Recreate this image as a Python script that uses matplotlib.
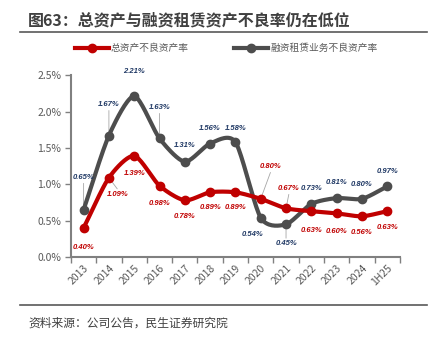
import numpy as np
import matplotlib
matplotlib.use("Agg")
import matplotlib.pyplot as plt
from matplotlib.lines import Line2D

plt.rcParams['font.family'] = ['Noto Sans CJK SC', 'DejaVu Sans']

categories = ["2013", "2014", "2015", "2016", "2017", "2018", "2019",
              "2020", "2021", "2022", "2023", "2024", "1H25"]
total_npl = [0.40, 1.09, 1.39, 0.98, 0.78, 0.89, 0.89, 0.80, 0.67, 0.63, 0.60, 0.56, 0.63]
lease_npl = [0.65, 1.67, 2.21, 1.63, 1.31, 1.56, 1.58, 0.54, 0.45, 0.73, 0.81, 0.80, 0.97]
name_total = "总资产不良资产率"
name_lease = "融资租赁业务不良资产率"
yticks = [0.0, 0.5, 1.0, 1.5, 2.0, 2.5]

RED = "#C00000"
GRAY = "#4D4D4D"
NAVY = "#1F3864"
AXC = "#808080"
TXT = "#595959"


def smooth(x, y, n=20):
    x = np.asarray(x, float)
    y = np.asarray(y, float)
    px = np.concatenate([[2 * x[0] - x[1]], x, [2 * x[-1] - x[-2]]])
    py = np.concatenate([[2 * y[0] - y[1]], y, [2 * y[-1] - y[-2]]])
    xs, ys = [], []
    for i in range(1, len(px) - 2):
        t = np.linspace(0, 1, n, endpoint=False)
        for arr, out in ((px, xs), (py, ys)):
            p0, p1, p2, p3 = arr[i - 1], arr[i], arr[i + 1], arr[i + 2]
            m1 = (p2 - p0) / 2 * 0.75
            m2 = (p3 - p1) / 2 * 0.75
            h00 = 2 * t**3 - 3 * t**2 + 1
            h10 = t**3 - 2 * t**2 + t
            h01 = -2 * t**3 + 3 * t**2
            h11 = t**3 - t**2
            out.extend(h00 * p1 + h10 * m1 + h01 * p2 + h11 * m2)
    xs.append(x[-1]); ys.append(y[-1])
    return np.array(xs), np.array(ys)


fig = plt.figure(figsize=(4.3, 3.4), dpi=100)
ax = fig.add_axes([0.165, 0.244, 0.765, 0.535])

x = np.arange(len(categories))
for vals, col, z in ((lease_npl, GRAY, 3), (total_npl, RED, 4)):
    sx, sy = smooth(x, vals)
    ax.plot(sx, sy, color=col, lw=3.0, solid_capstyle='round', zorder=z)
    ax.plot(x, vals, 'o', color=col, ms=6, zorder=z)

ax.set_xlim(-0.5, len(categories) - 0.5)
ax.set_ylim(0, 2.5)
ax.set_yticks(yticks)
ax.set_yticklabels([f"{v:.1f}%" for v in yticks], fontsize=7.5, color=TXT)
ax.set_xticks(np.arange(-0.5, len(categories)), minor=False)
ax.set_xticklabels([])
ax.set_xticks(x, minor=True)
ax.set_xticklabels(categories, minor=True, rotation=45, ha='right',
                   rotation_mode='anchor', fontsize=7.5, color=TXT)
ax.tick_params(axis='x', which='minor', length=0, pad=4)
ax.tick_params(axis='x', which='major', length=4, width=1, color=AXC, direction='out')
ax.tick_params(axis='y', length=4, width=1, color=AXC, direction='out', pad=3)
for s in ('top', 'right'):
    ax.spines[s].set_visible(False)
for s in ('left', 'bottom'):
    ax.spines[s].set_color(AXC)
    ax.spines[s].set_linewidth(1.5)

# data labels: (dx, dy) offsets in points from the point
lab_kw = dict(fontsize=5.5, fontweight='bold', fontstyle='italic',
              family=['Liberation Sans', 'DejaVu Sans'],
              ha='center', va='center', zorder=6)
lease_off = [(0, 23), (0, 22), (0, 18), (0, 22), (0, 12), (0, 11), (0, 10),
             (-6, -12), (0, -14), (0, 11), (0, 11), (0, 10), (0, 11)]
total_off = [(0, -14), (6, -12), (0, -13), (0, -13), (0, -12), (0, -11), (0, -11),
             (7, 23), (2, 14), (0, -14), (0, -13), (0, -12), (0, -12)]
lease_lead = {0, 1, 3, 8}
total_lead = {1, 7, 8}

for vals, offs, col, leads in ((lease_npl, lease_off, NAVY, lease_lead),
                               (total_npl, total_off, RED, total_lead)):
    for i, (v, (dx, dy)) in enumerate(zip(vals, offs)):
        ax.annotate(f"{v:.2f}%", (i, v), xytext=(dx, dy), textcoords='offset points',
                    color=col, **lab_kw)
        if i in leads:
            sgn = 1 if dy > 0 else -1
            ax.annotate("", (i, v), xytext=(dx, dy - sgn * 4), textcoords='offset points',
                        arrowprops=dict(arrowstyle='-', color='#A6A6A6', lw=0.6,
                                        shrinkA=0, shrinkB=3), zorder=2)

# legend
handles = [Line2D([0], [0], color=RED, lw=3, marker='o', ms=6),
           Line2D([0], [0], color=GRAY, lw=3, marker='o', ms=6)]
fig.legend(handles, [name_total, name_lease], loc='center', ncol=2,
           bbox_to_anchor=(226 / 430, 1 - 48 / 340), frameon=False, fontsize=7,
           labelcolor=TXT, handlelength=3.5, handletextpad=0.2, columnspacing=4.7)

# title and rules
fig.text(28 / 430, 1 - 20 / 340, "图63：总资产与融资租赁资产不良率仍在低位",
         fontsize=11.5, fontweight='bold', color='#404040', va='center', ha='left')
fig.add_artist(Line2D([20 / 430, 427 / 430], [1 - 32 / 340] * 2, color='#595959', lw=1.2))
fig.add_artist(Line2D([20 / 430, 427 / 430], [1 - 305 / 340] * 2, color='#595959', lw=1.2))
fig.text(28 / 430, 1 - 323 / 340, "资料来源：公司公告，民生证券研究院",
         fontsize=8.5, color='#404040', va='center', ha='left')

fig.savefig("out.png", dpi=100)
